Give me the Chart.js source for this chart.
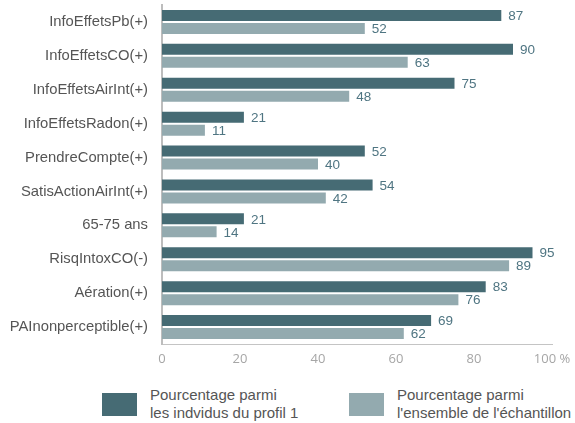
<!DOCTYPE html>
<html>
<head>
<meta charset="utf-8">
<script src="https://cdn.jsdelivr.net/npm/chart.js@4"></script>
<style>
  html, body { margin: 0; padding: 0; background: #fff; }
  body { width: 575px; height: 423px; position: relative; overflow: hidden; font-family: "Liberation Sans", Arial, sans-serif; }
  #wrap { position: absolute; left: 0; top: 0; width: 575px; height: 372px; }
  .leg { position: absolute; top: 386px; display: flex; align-items: center; }
  .sw { width: 35px; height: 23px; margin-right: 13px; }
  .lt { font-size: 15px; line-height: 18px; color: #555; }
</style>
</head>
<body>
<div id="wrap"><canvas id="c"></canvas></div>
<div class="leg" id="leg1" style="left:102px"><div class="sw" id="sw1"></div><div class="lt" id="lt1"></div></div>
<div class="leg" id="leg2" style="left:349px"><div class="sw" id="sw2"></div><div class="lt" id="lt2"></div></div>
<script>
const categories = ["InfoEffetsPb(+)", "InfoEffetsCO(+)", "InfoEffetsAirInt(+)", "InfoEffetsRadon(+)", "PrendreCompte(+)", "SatisActionAirInt(+)", "65-75 ans", "RisqIntoxCO(-)", "Aération(+)", "PAInonperceptible(+)"];
const profil1 = [87, 90, 75, 21, 52, 54, 21, 95, 83, 69];
const ensemble = [52, 63, 48, 11, 40, 42, 14, 89, 76, 62];
const seriesNames = [["Pourcentage parmi", "les indvidus du profil 1"], ["Pourcentage parmi", "l'ensemble de l'échantillon"]];
const xTicks = [0, 20, 40, 60, 80, 100];
const colors = ["#466b74", "#93aaaf"];

document.getElementById('sw1').style.background = colors[0];
document.getElementById('sw2').style.background = colors[1];
document.getElementById('lt1').innerHTML = seriesNames[0].join('<br>');
document.getElementById('lt2').innerHTML = seriesNames[1].join('<br>');

const valueLabels = {
  id: 'valueLabels',
  afterDatasetsDraw(chart) {
    const ctx = chart.ctx;
    ctx.save();
    ctx.font = '13.5px "Liberation Sans", Arial, sans-serif';
    ctx.fillStyle = '#4f7582';
    ctx.textAlign = 'left';
    ctx.textBaseline = 'middle';
    chart.data.datasets.forEach((ds, i) => {
      chart.getDatasetMeta(i).data.forEach((bar, j) => {
        ctx.fillText(String(ds.data[j]), bar.x + 7, bar.y + 1);
      });
    });
    ctx.restore();
  }
};

new Chart(document.getElementById('c'), {
  type: 'bar',
  data: {
    labels: categories,
    datasets: [
      { label: seriesNames[0].join(' '), data: profil1, backgroundColor: colors[0], categoryPercentage: 0.767, barPercentage: 0.846 },
      { label: seriesNames[1].join(' '), data: ensemble, backgroundColor: colors[1], categoryPercentage: 0.767, barPercentage: 0.846 }
    ]
  },
  options: {
    indexAxis: 'y',
    responsive: true,
    maintainAspectRatio: false,
    animation: false,
    layout: { padding: { top: 5, right: 23, left: 0, bottom: 0 } },
    plugins: { legend: { display: false }, tooltip: { enabled: false } },
    scales: {
      x: {
        min: 0, max: 100,
        afterBuildTicks(scale) { scale.ticks = xTicks.map(v => ({ value: v })); },
        afterFit(scale) { scale.height = 28; scale.paddingLeft = 0; scale.paddingRight = 0; },
        grid: { display: false, drawTicks: false },
        border: { display: true, color: '#c4c4c4', width: 1 },
        ticks: {
          padding: 7,
          color: '#a6a6a6',
          font: { family: '"Open Sans", "Liberation Sans", sans-serif', size: 13 },
          maxRotation: 0,
          callback: (v) => v === 100 ? '100 %' : String(v)
        }
      },
      y: {
        afterFit(scale) { scale.width = 162; scale.paddingTop = 0; scale.paddingBottom = 0; },
        grid: { display: false, drawTicks: false },
        border: { display: true, color: '#bdbdbd', width: 2 },
        ticks: {
          padding: 14,
          color: '#555',
          font: { family: '"Liberation Sans", Arial, sans-serif', size: 14.8 }
        }
      }
    }
  },
  plugins: [valueLabels]
});
</script>
</body>
</html>
